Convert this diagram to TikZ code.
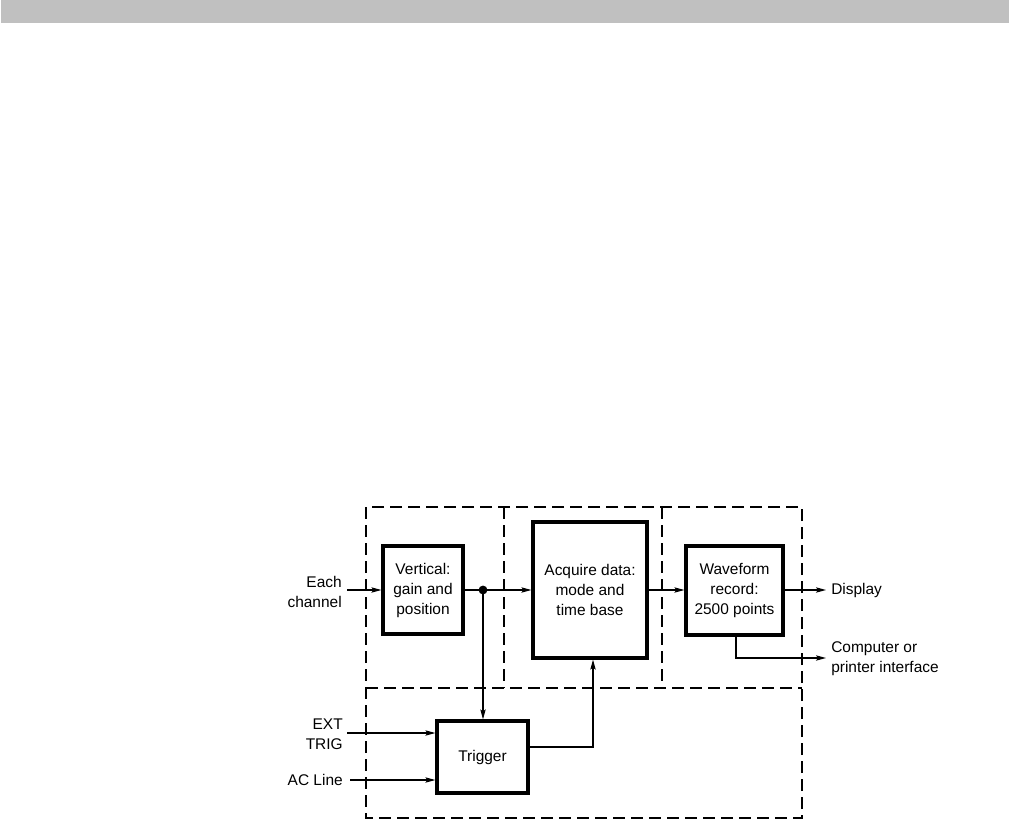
\documentclass[tikz,border=0pt]{standalone}
\usepackage{fontspec}
\setmainfont{Liberation Sans}
\usetikzlibrary{arrows.meta,calc}
\begin{document}
\begin{tikzpicture}[x=0.75pt,y=-0.75pt,
  every node/.style={font=\fontsize{11.6pt}{15pt}\selectfont, inner sep=0pt},
  blk/.style={draw, line width=2.4pt, align=center},
  region/.style={draw, line width=1.2pt, dash pattern=on 9pt off 4.5pt},
  conn/.style={line width=0.9pt},
  arr/.style={conn, -{Stealth[length=7.5pt,width=4pt,inset=1.5pt]}}]
\useasboundingbox (0,0) rectangle (1011,821);
\fill[fill={rgb,255:red,192;green,192;blue,192}] (1,0) rectangle (1009,23);

% dashed regions
\draw[region] (366,507) rectangle (802,818);
\draw[region] (366,688) -- (802,688);
\draw[region] (504,507) -- (504,688);
\draw[region] (662,507) -- (662,688);

% blocks (sizes in pt = px * 0.75)
\node[blk, minimum width=60pt, minimum height=66pt] (vert) at (423,590) {Vertical:\\gain and\\position};
\node[blk, minimum width=85.5pt, minimum height=102pt] (acq) at (590,590) {Acquire data:\\mode and\\time base};
\node[blk, minimum width=72.75pt, minimum height=66.75pt] (wave) at (734.5,590.5) {Waveform\\record:\\2500 points};
\node[blk, minimum width=68.25pt, minimum height=54pt] (trig) at (482.5,757) {Trigger};

% labels
\node[align=right, anchor=east] (each) at (342,592) {Each\\channel};
\node[align=right, anchor=east] (ext) at (343,734) {EXT\\TRIG};
\node[anchor=east] (acl) at (343,780) {AC Line};
\node[anchor=west] (disp) at (831,590) {Display};
\node[align=left, anchor=west] (comp) at (831,659) {Computer or\\printer interface};

% coordinates
\coordinate (eachin) at (347,590);
\coordinate (extin) at (347,733);
\coordinate (acin) at (350,780);
\coordinate (dispend) at (826,590);
\coordinate (compend) at (826,658);
\coordinate (dot) at (483,590);
\coordinate (trout) at (528,747);
\coordinate (acqin) at (593,656);

% connectors
\draw[arr] (eachin) -- (eachin -| vert.west);
\draw[conn] (vert.east |- dot) -- (dot);
\fill (dot) circle (4.4);
\draw[arr] (dot) -- (dot -| acq.west);
\draw[arr] (dot) -- (dot |- trig.north);
\draw[arr] (extin) -- (extin -| trig.west);
\draw[arr] (acin) -- (acin -| trig.west);
\draw[arr] (trout -| trig.east) -| (acqin |- acq.south);
\draw[arr] (acq.east |- dot) -- (dot -| wave.west);
\draw[arr] (wave.east |- dispend) -- (dispend);
\draw[arr] (wave.south -| 736,0) |- (compend);
\end{tikzpicture}
\end{document}
